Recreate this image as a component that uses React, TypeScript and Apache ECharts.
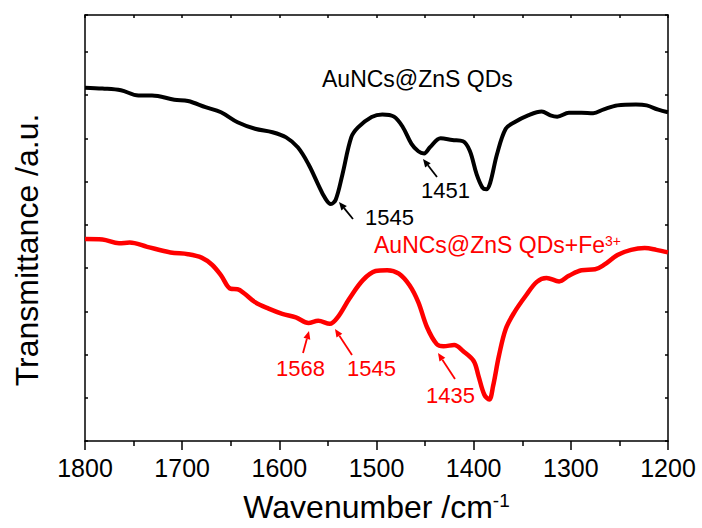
import React, { useEffect, useRef } from "react";
import * as echarts from "echarts";

// Wavenumbers (cm^-1) and transmittance (a.u.)
const blackWn = [1800, 1782, 1763, 1745, 1731, 1708, 1694, 1676, 1660, 1643, 1625, 1607, 1593, 1581, 1570, 1560, 1553, 1547, 1542, 1535, 1526, 1519, 1505, 1494, 1482, 1473, 1464, 1457, 1451, 1445, 1434, 1422, 1411, 1404, 1397, 1391, 1387, 1383, 1376, 1367, 1358, 1344, 1330, 1321, 1314, 1302, 1289, 1277, 1266, 1252, 1233, 1222, 1210, 1200];
const blackT = [8.17, 8.15, 8.11, 7.99, 7.99, 7.89, 7.86, 7.72, 7.6, 7.37, 7.22, 7.14, 7.02, 6.79, 6.4, 5.93, 5.62, 5.48, 5.58, 6.17, 7.02, 7.25, 7.49, 7.55, 7.5, 7.26, 6.87, 6.7, 6.65, 6.79, 7.0, 6.96, 6.93, 6.71, 6.17, 5.86, 5.82, 5.97, 6.63, 7.22, 7.37, 7.53, 7.62, 7.53, 7.5, 7.59, 7.59, 7.58, 7.67, 7.76, 7.78, 7.76, 7.66, 7.6];

const redWn = [1800, 1782, 1765, 1754, 1736, 1712, 1694, 1680, 1669, 1660, 1650, 1643, 1636, 1625, 1611, 1597, 1583, 1570, 1560, 1548, 1540, 1528, 1514, 1501, 1489, 1477, 1466, 1457, 1448, 1438, 1431, 1420, 1411, 1400, 1395, 1389, 1384, 1380, 1374, 1367, 1358, 1346, 1335, 1325, 1312, 1302, 1289, 1275, 1266, 1252, 1238, 1224, 1212, 1200];
const redT = [4.67, 4.66, 4.57, 4.59, 4.49, 4.36, 4.32, 4.24, 4.07, 3.83, 3.52, 3.51, 3.41, 3.21, 3.06, 2.94, 2.86, 2.73, 2.78, 2.71, 2.86, 3.29, 3.72, 3.93, 3.95, 3.87, 3.6, 3.21, 2.63, 2.24, 2.19, 2.22, 2.08, 1.85, 1.5, 1.07, 0.96, 1.27, 1.97, 2.59, 2.98, 3.37, 3.68, 3.77, 3.69, 3.82, 3.95, 3.97, 4.07, 4.3, 4.42, 4.46, 4.42, 4.36];

const xTicks = { min: 1200, max: 1800, major: 100, minor: 50 };
const yRange = { min: 0, max: 9.85, interval: 1 };

const FONT = "Arial, 'Liberation Sans', Helvetica, sans-serif";

function arrow(tail: number[], head: number[], color: string) {
  const dx = head[0] - tail[0];
  const dy = head[1] - tail[1];
  const len = Math.sqrt(dx * dx + dy * dy);
  const ux = dx / len;
  const uy = dy / len;
  const hl = 8;
  const hw = 3.5;
  const bx = head[0] - ux * hl;
  const by = head[1] - uy * hl;
  return [
    {
      type: "line",
      shape: { x1: tail[0], y1: tail[1], x2: bx, y2: by },
      style: { stroke: color, lineWidth: 1.8 },
      silent: true,
    },
    {
      type: "polygon",
      shape: {
        points: [
          [head[0], head[1]],
          [bx - uy * hw, by + ux * hw],
          [bx + uy * hw, by - ux * hw],
        ],
      },
      style: { fill: color },
      silent: true,
    },
  ];
}

function label(text: string, x: number, y: number, color: string, size: number) {
  return {
    type: "text",
    x,
    y,
    style: {
      text,
      fill: color,
      fontSize: size,
      fontFamily: FONT,
      textAlign: "left",
      textVerticalAlign: "middle",
    },
    silent: true,
  };
}

export default function App() {
  const ref = useRef<HTMLDivElement>(null);
  useEffect(() => {
    if (!ref.current) return;
    const chart = echarts.init(ref.current, undefined, { renderer: "svg" });
    const axisLineStyle = { color: "#000", width: 1.5 };
    const option = {
      animation: false,
      backgroundColor: "#fff",
      grid: { left: 85, right: 34, top: 15, bottom: 85 },
      xAxis: [
        {
          type: "value",
          position: "bottom",
          min: xTicks.min,
          max: xTicks.max,
          interval: xTicks.major,
          inverse: true,
          axisLine: { show: true, onZero: false, lineStyle: axisLineStyle },
          axisTick: { show: true, inside: false, length: 9, lineStyle: axisLineStyle },
          minorTick: { show: true, splitNumber: 2, length: 5, lineStyle: axisLineStyle },
          axisLabel: {
            fontSize: 25,
            color: "#000",
            margin: 14,
            fontFamily: FONT,
            formatter: (v: number) => String(v),
          },
          splitLine: { show: false },
          name: "{a|Wavenumber /cm}{s|-1}",
          nameLocation: "middle",
          nameGap: 50,
          nameTextStyle: {
            rich: {
              a: { fontSize: 32, color: "#000", fontFamily: FONT, verticalAlign: "bottom" },
              s: { fontSize: 19, color: "#000", fontFamily: FONT, verticalAlign: "top" },
            },
          },
        },
        {
          type: "value",
          position: "top",
          min: xTicks.min,
          max: xTicks.max,
          interval: xTicks.minor,
          inverse: true,
          axisLine: { show: true, onZero: false, lineStyle: axisLineStyle },
          axisTick: { show: true, inside: true, length: 3, lineStyle: axisLineStyle },
          axisLabel: { show: false },
          splitLine: { show: false },
        },
      ],
      yAxis: [
        {
          type: "value",
          position: "left",
          min: yRange.min,
          max: yRange.max,
          interval: yRange.interval,
          axisLine: { show: true, onZero: false, lineStyle: axisLineStyle },
          axisTick: { show: true, inside: true, length: 3, lineStyle: axisLineStyle },
          axisLabel: { show: false },
          splitLine: { show: false },
        },
        {
          type: "value",
          position: "right",
          min: yRange.min,
          max: yRange.max,
          interval: yRange.interval,
          axisLine: { show: true, onZero: false, lineStyle: axisLineStyle },
          axisTick: { show: true, inside: true, length: 3, lineStyle: axisLineStyle },
          axisLabel: { show: false },
          splitLine: { show: false },
        },
      ],
      series: [
        {
          type: "line",
          name: "AuNCs@ZnS QDs",
          data: blackWn.map((w, i) => [w, blackT[i]]),
          showSymbol: false,
          smooth: 0.35,
          lineStyle: { color: "#000", width: 4 },
          xAxisIndex: 0,
          yAxisIndex: 0,
        },
        {
          type: "line",
          name: "AuNCs@ZnS QDs+Fe3+",
          data: redWn.map((w, i) => [w, redT[i]]),
          showSymbol: false,
          smooth: 0.35,
          lineStyle: { color: "#ff0000", width: 4.5 },
          xAxisIndex: 0,
          yAxisIndex: 0,
        },
      ],
      graphic: [
        {
          type: "text",
          x: 27,
          y: 250,
          rotation: Math.PI / 2,
          style: {
            text: "Transmittance /a.u.",
            fill: "#000",
            fontSize: 32,
            fontFamily: FONT,
            textAlign: "center",
            textVerticalAlign: "middle",
          },
          silent: true,
        },
        label("AuNCs@ZnS QDs", 322, 79, "#000", 23),
        {
          type: "text",
          x: 374,
          y: 245,
          style: {
            text: "{a|AuNCs@ZnS QDs+Fe}{s|3+}",
            textAlign: "left",
            textVerticalAlign: "middle",
            rich: {
              a: { fontSize: 23, fill: "#ff0000", fontFamily: FONT, verticalAlign: "bottom" },
              s: { fontSize: 14, fill: "#ff0000", fontFamily: FONT, verticalAlign: "top" },
            },
          },
          silent: true,
        },
        label("1545", 365, 217, "#000", 22),
        label("1451", 421, 190, "#000", 22),
        label("1568", 276, 368, "#ff0000", 22),
        label("1545", 347, 368, "#ff0000", 22),
        label("1435", 426, 395, "#ff0000", 22),
        ...arrow([353, 219], [339, 202], "#000"),
        ...arrow([437, 177], [423, 159], "#000"),
        ...arrow([303, 353], [309, 331], "#ff0000"),
        ...arrow([352, 355], [335, 329], "#ff0000"),
        ...arrow([455, 379], [438, 353], "#ff0000"),
      ],
    };
    chart.setOption(option as any);
    return () => chart.dispose();
  }, []);
  return <div ref={ref} style={{ width: 702, height: 528, position: "absolute", left: 0, top: 0 }} />;
}
